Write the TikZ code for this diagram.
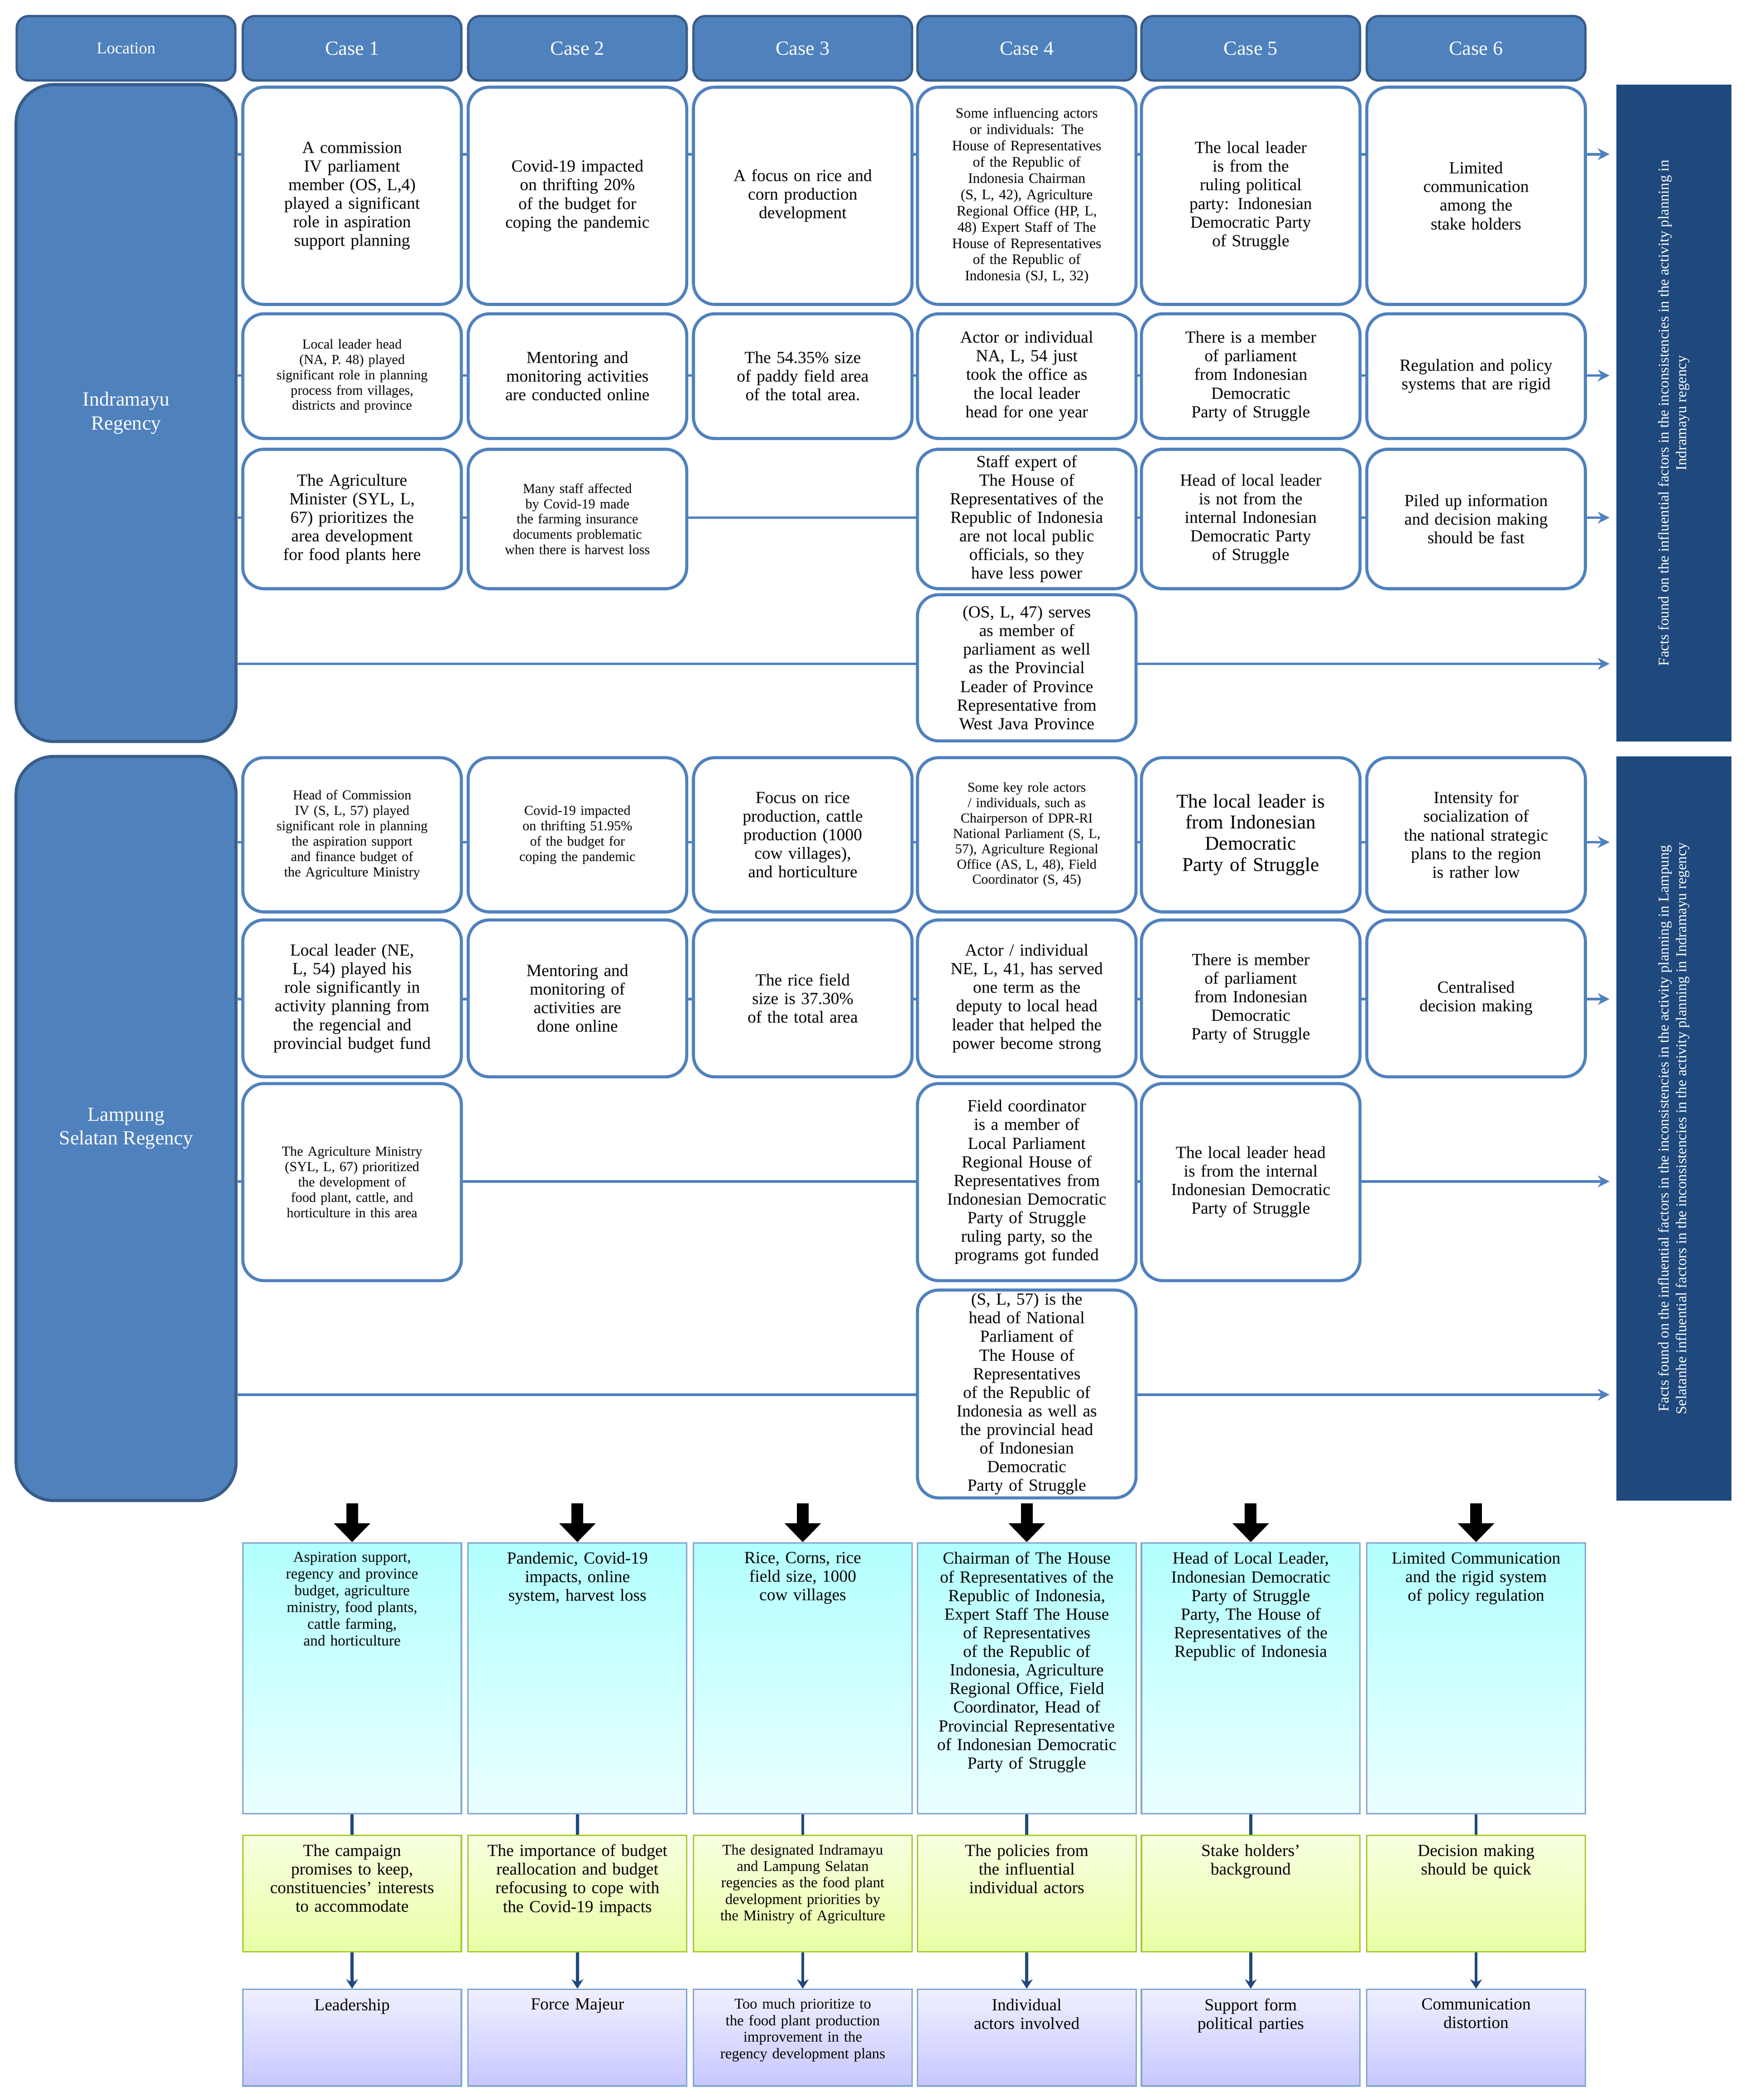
\documentclass[tikz,border=0pt]{standalone}
\usepackage{fontspec}
\setmainfont{Liberation Serif}
\usetikzlibrary{arrows.meta}
\hyphenpenalty=10000 \exhyphenpenalty=10000
\definecolor{bl}{HTML}{4F81BD}
\definecolor{bd}{HTML}{385D8A}
\definecolor{dk}{HTML}{1F497D}
\tikzset{
 cell/.style={draw=bl,line width=1.3pt,rounded corners=9pt,fill=white,minimum width=3.26cm,align=center,text width=2.45cm,font=\fontsize{7.2}{7.9}\selectfont,inner sep=1pt},
 sm/.style={font=\fontsize{5.8}{6.5}\selectfont},
 hd/.style={draw=bd,line width=1pt,rounded corners=5pt,fill=bl,text=white,minimum width=3.26cm,minimum height=0.96cm,font=\fontsize{8.5}{9}\selectfont},
 big/.style={draw=bd,line width=1.3pt,rounded corners=16pt,fill=bl,text=white,minimum width=3.28cm,align=center,font=\fontsize{8.5}{10}\selectfont},
 side/.style={fill=dk,minimum width=1.72cm,inner sep=0pt},
 ln/.style={draw=bl,line width=1.1pt,-{Stealth[length=5pt,width=5pt]}},
 cy/.style={draw=bl!70,line width=0.6pt,top color=cyan!30,bottom color=cyan!8,minimum width=3.26cm,minimum height=4.04cm},
 gr/.style={draw=lime!60!gray,line width=0.6pt,top color=lime!12,bottom color=lime!35,minimum width=3.26cm,minimum height=1.74cm},
 bu/.style={draw=bl!70,line width=0.6pt,top color=blue!6,bottom color=blue!22,minimum width=3.26cm,minimum height=1.44cm},
 tx/.style={anchor=north,align=center,text width=2.5cm,font=\fontsize{7.2}{7.9}\selectfont,inner sep=4pt},
 ba/.style={line width=5pt,-{Triangle[length=8pt,width=15pt]}},
 la/.style={draw=dk,line width=1.3pt,-{Stealth[length=4pt,width=5pt]}},
}
\begin{document}
\begin{tikzpicture}[x=0.02cm,y=-0.02cm]
\useasboundingbox (0,0) rectangle (1301,1566);
\node[hd,font=\fontsize{7}{8}\selectfont] (h0) at (94,36) {Location};
\foreach \i/\x in {1/262.5,2/430.5,3/598.5,4/765.5,5/932.5,6/1100.5}
  \node[hd] (h\i) at (\x,36) {Case \i};
\node[big,minimum height=9.8cm] (ind) at (94,308) {Indramayu\\Regency};
\node[big,minimum height=11.1cm] (lam) at (94,841.5) {Lampung\\Selatan Regency};
\node[side,minimum height=9.8cm] (sr1) at (1248,308) {};
\node[side,minimum height=11.1cm] (sr2) at (1248,841.5) {};
\node[rotate=90,text=white,align=center,font=\fontsize{6.3}{7.5}\selectfont] (st1) at (sr1.center) {Facts found on the influential factors in the inconsistencies in the activity planning in\\Indramayu regency};
\node[rotate=90,text=white,align=center,font=\fontsize{6.3}{7.5}\selectfont] (st2) at (sr2.center) {Facts found on the influential factors in the inconsistencies in the activity planning in Lampung\\Selatanhe influential factors in the inconsistencies in the activity planning in Indramayu regency};
\foreach \n/\y in {a/115,b/280,c/386,d/495}{\coordinate (e\n) at (1200,\y); \draw[ln] (ind.east|-e\n) -- (e\n);}
\foreach \n/\y in {f/628,g/745,h/881,k/1040}{\coordinate (e\n) at (1200,\y); \draw[ln] (lam.east|-e\n) -- (e\n);}
% Indramayu
\node[cell,minimum height=3.24cm] (i11) at (262.5,146) {A commission IV parliament member (OS, L,4) played a significant role in aspiration support planning};
\node[cell,minimum height=3.24cm] (i12) at (430.5,146) {Covid-19 impacted on thrifting 20\% of the budget for coping the pandemic};
\node[cell,minimum height=3.24cm] (i13) at (598.5,146) {A focus on rice and corn production development};
\node[cell,minimum height=3.24cm,font=\fontsize{6.1}{6.9}\selectfont,text width=2.3cm] (i14) at (765.5,146) {Some influencing actors or individuals: The House of Representatives of the Republic of Indonesia Chairman (S, L, 42), Agriculture Regional Office (HP, L, 48) Expert Staff of The House of Representatives of the Republic of Indonesia (SJ, L, 32)};
\node[cell,minimum height=3.24cm,text width=2.2cm] (i15) at (932.5,146) {The local leader is from the ruling political party: Indonesian Democratic Party of Struggle};
\node[cell,minimum height=3.24cm,text width=2.1cm] (i16) at (1100.5,146) {Limited communication among the stake holders};
\node[cell,sm,minimum height=1.86cm] (i21) at (262.5,280.5) {Local leader head (NA, P. 48) played significant role in planning process from villages, districts and province};
\node[cell,minimum height=1.86cm] (i22) at (430.5,280.5) {Mentoring and monitoring activities are conducted online};
\node[cell,minimum height=1.86cm] (i23) at (598.5,280.5) {The 54.35\% size of paddy field area of the total area.};
\node[cell,minimum height=1.86cm,text width=2.2cm] (i24) at (765.5,280.5) {Actor or individual NA, L, 54 just took the office as the local leader head for one year};
\node[cell,minimum height=1.86cm,text width=2.2cm] (i25) at (932.5,280.5) {There is a member of parliament from Indonesian Democratic Party of Struggle};
\node[cell,minimum height=1.86cm] (i26) at (1100.5,280.5) {Regulation and policy systems that are rigid};
\node[cell,minimum height=2.08cm,text width=2.3cm] (i31) at (262.5,387) {The Agriculture Minister (SYL, L, 67) prioritizes the area development for food plants here};
\node[cell,sm,minimum height=2.08cm,text width=2.3cm] (i32) at (430.5,387) {Many staff affected by Covid-19 made the farming insurance documents problematic when there is harvest loss};
\node[cell,minimum height=2.08cm,text width=2.3cm] (i34) at (765.5,387) {Staff expert of The House of Representatives of the Republic of Indonesia are not local public officials, so they have less power};
\node[cell,minimum height=2.08cm,text width=2.2cm] (i35) at (932.5,387) {Head of local leader is not from the internal Indonesian Democratic Party of Struggle};
\node[cell,minimum height=2.08cm,text width=2.2cm] (i36) at (1100.5,387) {Piled up information and decision making should be fast};
\node[cell,minimum height=2.18cm,text width=2.3cm] (i44) at (765.5,498) {(OS, L, 47) serves as member of parliament as well as the Provincial Leader of Province Representative from West Java Province};
% Lampung
\node[cell,sm,minimum height=2.3cm,text width=2.4cm] (l11) at (262.5,622.5) {Head of Commission IV (S, L, 57) played significant role in planning the aspiration support and finance budget of the Agriculture Ministry};
\node[cell,sm,minimum height=2.3cm,text width=2.2cm] (l12) at (430.5,622.5) {Covid-19 impacted on thrifting 51.95\% of the budget for coping the pandemic};
\node[cell,minimum height=2.3cm,text width=2.3cm] (l13) at (598.5,622.5) {Focus on rice production, cattle production (1000 cow villages), and horticulture};
\node[cell,sm,minimum height=2.3cm,text width=2.4cm] (l14) at (765.5,622.5) {Some key role actors / individuals, such as Chairperson of DPR-RI National Parliament (S, L, 57), Agriculture Regional Office (AS, L, 48), Field Coordinator (S, 45)};
\node[cell,minimum height=2.3cm,font=\fontsize{8.3}{9}\selectfont,text width=2.6cm] (l15) at (932.5,622.5) {The local leader is from Indonesian Democratic Party of Struggle};
\node[cell,minimum height=2.3cm,text width=2.3cm] (l16) at (1100.5,622.5) {Intensity for socialization of the national strategic plans to the region is rather low};
\node[cell,minimum height=2.34cm,text width=2.4cm] (l21) at (262.5,744.5) {Local leader (NE, L, 54) played his role significantly in activity planning from the regencial and provincial budget fund};
\node[cell,minimum height=2.34cm,text width=2.1cm] (l22) at (430.5,744.5) {Mentoring and monitoring of activities are done online};
\node[cell,minimum height=2.34cm,text width=2.3cm] (l23) at (598.5,744.5) {The rice field size is 37.30\% of the total area};
\node[cell,minimum height=2.34cm,text width=2.3cm] (l24) at (765.5,744.5) {Actor / individual NE, L, 41, has served one term as the deputy to local head leader that helped the power become strong};
\node[cell,minimum height=2.34cm,text width=2.2cm] (l25) at (932.5,744.5) {There is member of parliament from Indonesian Democratic Party of Struggle};
\node[cell,minimum height=2.34cm,text width=2.2cm] (l26) at (1100.5,744.5) {Centralised decision making};
\node[cell,sm,minimum height=2.94cm,text width=2.2cm] (l31) at (262.5,881.5) {The Agriculture Ministry (SYL, L, 67) prioritized the development of food plant, cattle, and horticulture in this area};
\node[cell,minimum height=2.94cm,text width=2.4cm] (l34) at (765.5,881.5) {Field coordinator is a member of Local Parliament Regional House of Representatives from Indonesian Democratic Party of Struggle ruling party, so the programs got funded};
\node[cell,minimum height=2.94cm,text width=2.4cm] (l35) at (932.5,881.5) {The local leader head is from the internal Indonesian Democratic Party of Struggle};
\node[cell,minimum height=3.1cm,text width=2.3cm] (l44) at (765.5,1039.5) {(S, L, 57) is the head of National Parliament of The House of Representatives of the Republic of Indonesia as well as the provincial head of Indonesian Democratic Party of Struggle};
% bottom boxes
\foreach \i/\x in {1/262.5,2/430.5,3/598.5,4/765.5,5/932.5,6/1100.5}{
  \node[cy,anchor=north] (c\i) at (\x,1150) {};
  \node[gr,anchor=north] (g\i) at (\x,1368) {};
  \node[bu,anchor=north] (b\i) at (\x,1483) {};
  \coordinate (t\i) at (\x,1121);
  \draw[ba] (t\i) -- (c\i.north);
  \draw[dk,line width=1.3pt] (c\i.south) -- (g\i.north);
  \draw[la] (g\i.south) -- (b\i.north);
}
\node[tx,font=\fontsize{6.4}{7.1}\selectfont] (ct1) at (c1.north) {Aspiration support, regency and province budget, agriculture ministry, food plants, cattle farming, and horticulture};
\node[tx,text width=2.2cm] (ct2) at (c2.north) {Pandemic, Covid-19 impacts, online system, harvest loss};
\node[tx,text width=2.4cm] (ct3) at (c3.north) {Rice, Corns, rice field size, 1000 cow villages};
\node[tx,text width=2.7cm] (ct4) at (c4.north) {Chairman of The House of Representatives of the Republic of Indonesia, Expert Staff The House of Representatives of the Republic of Indonesia, Agriculture Regional Office, Field Coordinator, Head of Provincial Representative of Indonesian Democratic Party of Struggle};
\node[tx,text width=2.6cm] (ct5) at (c5.north) {Head of Local Leader, Indonesian Democratic Party of Struggle Party, The House of Representatives of the Republic of Indonesia};
\node[tx,text width=2.7cm] (ct6) at (c6.north) {Limited Communication and the rigid system of policy regulation};
\node[tx] (gt1) at (g1.north) {The campaign promises to keep, constituencies' interests to accommodate};
\node[tx,text width=2.7cm] (gt2) at (g2.north) {The importance of budget reallocation and budget refocusing to cope with the Covid-19 impacts};
\node[tx,text width=2.7cm,font=\fontsize{6.3}{7}\selectfont] (gt3) at (g3.north) {The designated Indramayu and Lampung Selatan regencies as the food plant development priorities by the Ministry of Agriculture};
\node[tx,text width=2.3cm] (gt4) at (g4.north) {The policies from the influential individual actors};
\node[tx,text width=1.9cm] (gt5) at (g5.north) {Stake holders' background};
\node[tx,text width=2.6cm] (gt6) at (g6.north) {Decision making should be quick};
\node[tx] (bt1) at (b1.north) {Leadership};
\node[tx] (bt2) at (b2.north) {Force Majeur};
\node[tx,text width=2.6cm,font=\fontsize{6.3}{7}\selectfont] (bt3) at (b3.north) {Too much prioritize to the food plant production improvement in the regency development plans};
\node[tx,text width=2.2cm] (bt4) at (b4.north) {Individual actors involved};
\node[tx,text width=2.6cm] (bt5) at (b5.north) {Support form political parties};
\node[tx,text width=2.0cm] (bt6) at (b6.north) {Communication distortion};
\end{tikzpicture}
\end{document}
